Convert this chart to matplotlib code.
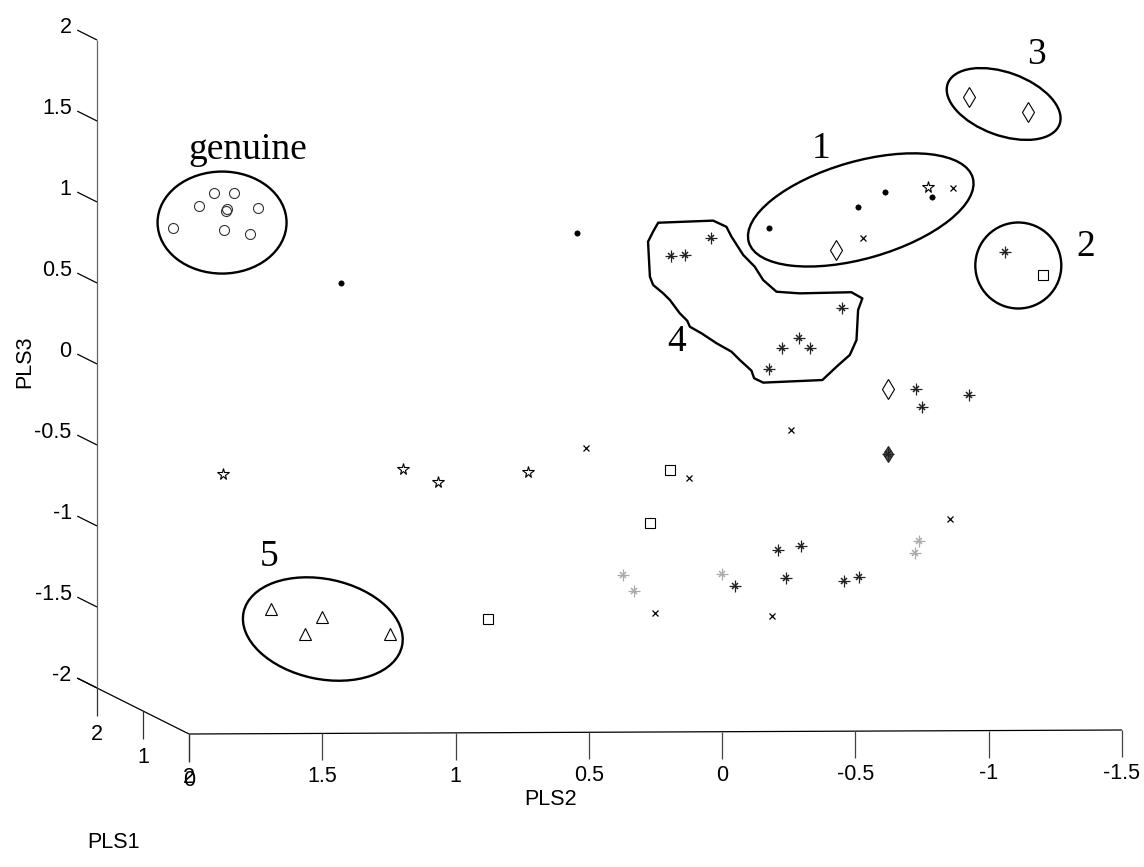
import matplotlib
matplotlib.use("Agg")
import matplotlib.pyplot as plt
from matplotlib.patches import Ellipse, Polygon
from matplotlib.transforms import ScaledTranslation
from matplotlib import font_manager

# ---- data: (PLS2, PLS3) scores as seen in the projected view ----
genuine_pls2 = [1.905, 1.831, 1.963, 1.859, 1.861, 1.742, 2.060, 1.870, 1.770]
genuine_pls3 = [1.341, 1.341, 1.259, 1.243, 1.227, 1.245, 1.123, 1.109, 1.086]

dot_pls2 = [1.431, 0.545, -0.174, -0.510, -0.611, -0.789]
dot_pls3 = [0.782, 1.093, 1.122, 1.255, 1.346, 1.315]

pentagram_pls2 = [-0.774, 1.871, 1.199, 1.067, 0.729]
pentagram_pls3 = [1.378, -0.397, -0.366, -0.443, -0.381]

cross_pls2 = [-0.866, -0.527, -0.257, 0.511, 0.125, -0.854, 0.252, -0.187]
cross_pls3 = [1.372, 1.064, -0.123, -0.236, -0.418, -0.673, -1.251, -1.272]

diamond_pls2 = [-0.926, -1.147, -0.427, -0.624]
diamond_pls3 = [1.934, 1.838, 0.988, 0.131]

filled_diamond_pls2 = [-0.621]
filled_diamond_pls3 = [-0.272]

square_pls2 = [-1.205, 0.196, 0.272, 0.880]
square_pls3 = [0.831, -0.370, -0.699, -1.292]

triangle_pls2 = [1.691, 1.501, 1.565, 1.246]
triangle_pls3 = [-1.230, -1.276, -1.385, -1.383]

dark_ast_pls2 = [-1.061, 0.191, 0.140, 0.043, -0.451, -0.289, -0.226, -0.331,
                 -0.176, -0.729, -0.749, -0.926, -0.621, -0.211, -0.296,
                 -0.049, -0.239, -0.459, -0.514]
dark_ast_pls3 = [0.973, 0.951, 0.957, 1.064, 0.628, 0.443, 0.381, 0.381,
                 0.251, 0.131, 0.017, 0.093, -0.272, -0.864, -0.838,
                 -1.086, -1.039, -1.054, -1.033]

gray_ast_pls2 = [-0.737, -0.723, 0.372, 0.329, 0.001]
gray_ast_pls3 = [-0.807, -0.881, -1.017, -1.115, -1.010]

pls2_ticks = [2, 1.5, 1, 0.5, 0, -0.5, -1, -1.5]
pls2_labels = ["2", "1.5", "1", "0.5", "0", "-0.5", "-1", "-1.5"]
pls3_ticks = [-2, -1.5, -1, -0.5, 0, 0.5, 1, 1.5, 2]
pls3_labels = ["-2", "-1.5", "-1", "-0.5", "0", "0.5", "1", "1.5", "2"]
pls1_ticks = [0, 1, 2]
pls1_labels = ["0", "1", "2"]

# hand-drawn outline of group 4
group4_pls2 = [0.240, 0.034, -0.016, -0.035, -0.079, -0.122, -0.154, -0.204,
               -0.291, -0.485, -0.526, -0.510, -0.504, -0.479, -0.429, -0.376,
               -0.154, -0.120, -0.110, -0.066, -0.035, 0.021, 0.077, 0.121,
               0.131, 0.159, 0.196, 0.221, 0.259, 0.271, 0.278, 0.259]
group4_pls3 = [1.156, 1.169, 1.131, 1.070, 0.957, 0.885, 0.802, 0.730,
               0.720, 0.727, 0.689, 0.617, 0.432, 0.340, 0.267, 0.185,
               0.169, 0.196, 0.243, 0.309, 0.360, 0.412, 0.473, 0.514,
               0.551, 0.597, 0.679, 0.720, 0.772, 0.823, 1.039, 1.101]

# ---- fonts ----
available = {f.name for f in font_manager.fontManager.ttflist}
sans = [f for f in ["Liberation Sans Narrow", "Liberation Sans", "DejaVu Sans"] if f in available]
serif = [f for f in ["Liberation Serif", "DejaVu Serif"] if f in available]

W, H = 1144, 867
fig = plt.figure(figsize=(W / 100, H / 100), dpi=100)
# axes plane: PLS2 from 2 (px 189) to -1.5 (px 1122), PLS3 from -2 (px 734) to 2 (px 86)
ax = fig.add_axes([189 / W, 133 / H, 933 / W, 648 / H])
ax.set_xlim(2, -1.5)
ax.set_ylim(-2, 2)
ax.axis("off")

# oblique projection of the PLS1 direction onto the plane
K1X, K1Y, TILT = 0.1725, 0.142, 0.00705


def frame(p1, p2, p3):
    return p2 + K1X * p1, p3 + K1Y * p1 + TILT * (2 - p2)


def seg(a, b, color="black", lw=0.9):
    ax.plot([a[0], b[0]], [a[1], b[1]], color=color, lw=lw,
            clip_on=False, solid_capstyle="butt")


TICK = 27 / 162.0
tick_font = dict(family=sans, fontsize=15.5, color="black")

# PLS2 axis
seg(frame(0, 2, -2), frame(0, -1.5, -2))
for v, lab in zip(pls2_ticks, pls2_labels):
    x0, y0 = frame(0, v, -2)
    seg((x0, y0), (x0, y0 - TICK), color="#444444")
    ax.text(x0, y0 - 0.268, lab, ha="center", va="center", clip_on=False, **tick_font)

# PLS1 axis (extends to meet the PLS3 tick at -2)
seg(frame(0, 2, -2), frame(2.43, 2, -2))
for v, lab in zip(pls1_ticks, pls1_labels):
    x0, y0 = frame(v, 2, -2)
    seg((x0, y0), (x0, y0 - 0.172), color="#333333")
    ax.text(x0, y0 - 0.285, lab, ha="center", va="center", clip_on=False, **tick_font)

# PLS3 axis
seg(frame(2, 2, -2), frame(2, 2, 2), color="#666666")
for v, lab in zip(pls3_ticks, pls3_labels):
    seg(frame(2, 2, v), frame(2.43, 2, v))
    lx, ly = frame(2.55, 2, v)
    ax.text(lx, ly, lab, ha="right", va="center", clip_on=False, **tick_font)

ax.text(0.643, -2.407, "PLS2", ha="center", va="center", clip_on=False, **tick_font)
ax.text(2.285, -2.667, "PLS1", ha="center", va="center", clip_on=False, **tick_font)
ax.text(2.615, 0.296, "PLS3", ha="center", va="center", rotation=90, clip_on=False, **tick_font)

# ---- markers ----
mk = dict(linestyle="none", clip_on=False)
ax.plot(genuine_pls2, genuine_pls3, marker="o", ms=7.2, mfc="none", mec="#333333", mew=0.8, **mk)
ax.plot(dot_pls2, dot_pls3, marker="o", ms=3.8, mfc="black", mec="black", mew=0.5, **mk)
ax.plot(pentagram_pls2, pentagram_pls3, marker="*", ms=8.5, mfc="none", mec="black", mew=0.8, **mk)
ax.plot(cross_pls2, cross_pls3, marker="x", ms=4, mec="black", mew=0.9, **mk)
ax.plot(diamond_pls2, diamond_pls3, marker="d", ms=9.8, mfc="none", mec="black", mew=0.8, **mk)
ax.plot(filled_diamond_pls2, filled_diamond_pls3, marker="d", ms=8.5, mfc="#555555",
        mec="#222222", mew=0.8, **mk)
ax.plot(square_pls2, square_pls3, marker="s", ms=6.5, mfc="none", mec="black", mew=0.8, **mk)
ax.plot(triangle_pls2, triangle_pls3, marker="^", ms=8, mfc="none", mec="black", mew=0.8, **mk)
for color, xs, ys in [("#222222", dark_ast_pls2, dark_ast_pls3),
                      ("#aaaaaa", gray_ast_pls2, gray_ast_pls3)]:
    ax.plot(xs, ys, marker="+", ms=9, mec=color, mew=0.9, **mk)
    ax.plot(xs, ys, marker="x", ms=5, mec=color, mew=1.1, **mk)

# ---- group outlines ----
def ring(cx, cy, w_px, h_px, angle=0.0):
    tr = fig.dpi_scale_trans + ScaledTranslation(cx, cy, ax.transData)
    e = Ellipse((0, 0), w_px / 100, h_px / 100, angle=angle, fill=False,
                lw=1.7, ec="black", transform=tr, clip_on=False)
    ax.add_patch(e)


ring(1.876, 1.157, 129, 102)            # genuine
ring(-0.520, 1.235, 233, 97, 16)        # 1
ring(-1.111, 0.892, 86, 86)             # 2
ring(-1.056, 1.889, 119, 63, -20)       # 3
ring(1.498, -1.352, 162, 100, -12)      # 5
ax.add_patch(Polygon(list(zip(group4_pls2, group4_pls3)), closed=True, fill=False,
                     lw=1.7, ec="black", joinstyle="round", clip_on=False))

big = dict(family=serif, fontsize=27, color="black", ha="center", va="center")
ax.text(1.779, 1.605, "genuine", **big)
ax.text(-0.373, 1.611, "1", **big)
ax.text(-1.364, 1.008, "2", **big)
ax.text(-1.179, 2.191, "3", **big)
ax.text(0.169, 0.422, "4", **big)
ax.text(1.699, -0.906, "5", **big)

fig.savefig("out.png", dpi=100, facecolor="white")
